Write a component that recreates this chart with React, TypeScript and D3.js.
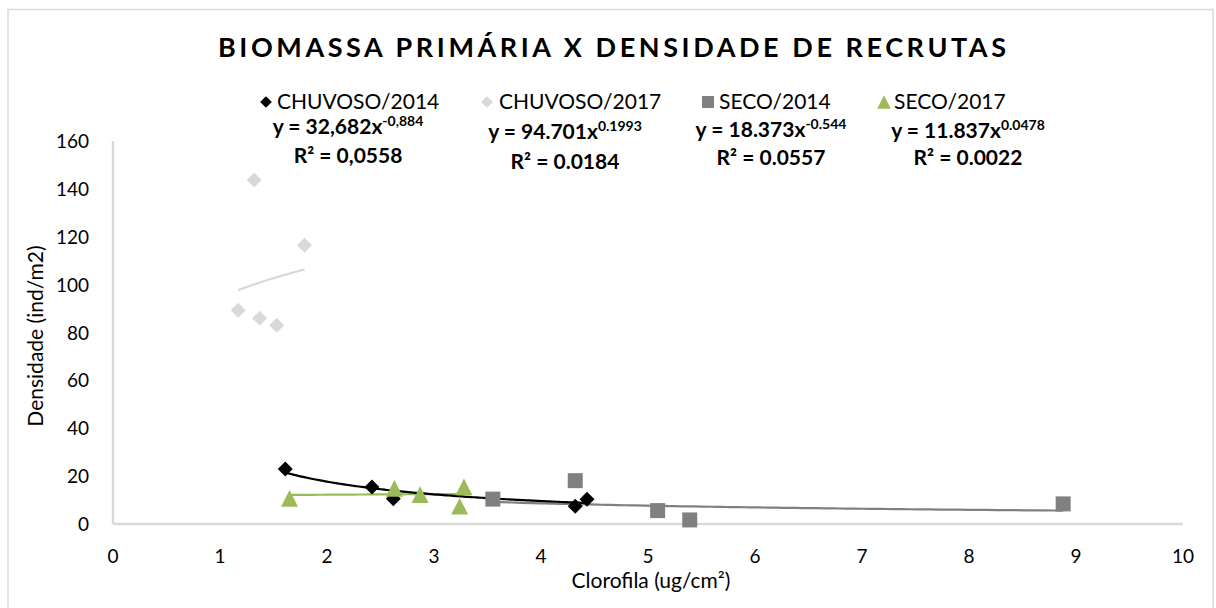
import React from "react";
import * as d3 from "d3";

const titleText = "BIOMASSA PRIMÁRIA X DENSIDADE DE RECRUTAS";
const xAxisTitle = "Clorofila (ug/cm²)";
const yAxisTitle = "Densidade (ind/m2)";

const seriesNames = ["CHUVOSO/2014", "CHUVOSO/2017", "SECO/2014", "SECO/2017"];

const chuvoso2014X = [1.61, 2.42, 2.62, 4.32, 4.43];
const chuvoso2014Y = [23.0, 15.5, 10.5, 7.4, 10.3];
const chuvoso2017X = [1.32, 1.79, 1.17, 1.37, 1.53];
const chuvoso2017Y = [143.7, 116.5, 89.3, 86.0, 83.0];
const seco2014X = [3.55, 4.32, 5.09, 5.39, 8.88];
const seco2014Y = [10.4, 18.1, 5.6, 1.7, 8.4];
const seco2017X = [1.65, 2.63, 2.87, 3.28, 3.24];
const seco2017Y = [10.7, 14.9, 12.3, 15.5, 7.4];

// power trendline fits y = a * x^b as displayed
const fitA = [32.682, 94.701, 18.373, 11.837];
const fitB = [-0.884, 0.1993, -0.544, 0.0478];
const eqCoef = ["32,682", "94.701", "18.373", "11.837"];
const eqExp = ["-0,884", "0.1993", "-0.544", "0.0478"];
const r2Text = ["0,0558", "0.0184", "0.0557", "0.0022"];

const xTicks = [0, 1, 2, 3, 4, 5, 6, 7, 8, 9, 10];
const yTicks = [0, 20, 40, 60, 80, 100, 120, 140, 160];

const colors = ["#000000", "#d9d9d9", "#808080", "#9bbb59"];
const shapes = ["diamond", "diamond", "square", "triangle"];

const W = 1216;
const H = 608;
const FONT = "Lato, 'Open Sans', sans-serif";

const xScale = d3.scaleLinear().domain([0, 10]).range([113, 1183]);
const yScale = d3.scaleLinear().domain([0, 160]).range([524, 141]);

const triangleType = {
  draw(ctx: any, size: number) {
    const w = Math.sqrt(size);
    const h = w * 0.98;
    ctx.moveTo(0, -h / 2);
    ctx.lineTo(w / 2, h / 2);
    ctx.lineTo(-w / 2, h / 2);
    ctx.closePath();
  },
};
const diamondType = {
  draw(ctx: any, size: number) {
    const r = Math.sqrt(size) / 2;
    ctx.moveTo(0, -r);
    ctx.lineTo(r, 0);
    ctx.lineTo(0, r);
    ctx.lineTo(-r, 0);
    ctx.closePath();
  },
};
const squareType = {
  draw(ctx: any, size: number) {
    const r = Math.sqrt(size) / 2;
    ctx.rect(-r, -r, 2 * r, 2 * r);
  },
};

function markerPath(shape: string, scale: number) {
  if (shape === "diamond") return d3.symbol(diamondType as any, (15 * scale) ** 2)()!;
  if (shape === "square") return d3.symbol(squareType as any, (15 * scale) ** 2)()!;
  return d3.symbol(triangleType as any, (17 * scale) ** 2)()!;
}

const seriesData = [
  { xs: chuvoso2014X, ys: chuvoso2014Y },
  { xs: chuvoso2017X, ys: chuvoso2017Y },
  { xs: seco2014X, ys: seco2014Y },
  { xs: seco2017X, ys: seco2017Y },
];

function trendPoints(i: number): [number, number][] {
  const xs = seriesData[i].xs;
  const x0 = d3.min(xs)!;
  const x1 = d3.max(xs)!;
  const n = 60;
  return d3.range(n + 1).map((k) => {
    const x = x0 + ((x1 - x0) * k) / n;
    return [x, fitA[i] * Math.pow(x, fitB[i])];
  });
}

const line = d3
  .line<[number, number]>()
  .x((d) => xScale(d[0]))
  .y((d) => yScale(d[1]))
  .curve(d3.curveMonotoneX);

// layout of the legend / equation blocks
const legendLayout = [
  { mx: 266, tx: 277, ly: 109, cx: 348, ey: 134, ry: 163 },
  { mx: 487, tx: 499, ly: 109, cx: 565, ey: 139, ry: 169 },
  { mx: 708, tx: 719, ly: 109, cx: 771, ey: 137, ry: 165 },
  { mx: 884, tx: 894, ly: 109, cx: 968, ey: 138, ry: 165 },
];

export default function App() {
  const trendOrder = [1, 3, 2, 0];
  return (
    <div style={{ position: "absolute", left: 0, top: 0 }}>
      <svg width={W} height={H} style={{ display: "block", background: "#fff" }}>
        <rect x={0} y={0} width={W} height={H} fill="#fff" />
        <rect x={8} y={9.5} width={1205} height={620} fill="none" stroke="#d9d9d9" strokeWidth={1.5} />

        <text
          x={612}
          y={57}
          textAnchor="middle"
          fontFamily={FONT}
          fontWeight={700}
          fontSize={27}
          textLength={788}
          lengthAdjust="spacing"
          fill="#000"
        >
          {titleText}
        </text>

        {/* axes */}
        <line x1={xScale(0)} x2={xScale(0)} y1={yScale(160)} y2={yScale(0)} stroke="#d9d9d9" strokeWidth={2.5} />
        <line x1={xScale(0)} x2={xScale(10)} y1={yScale(0)} y2={yScale(0)} stroke="#d9d9d9" strokeWidth={2.5} />

        {yTicks.map((t) => (
          <text key={"y" + t} x={89} y={yScale(t) + 7} textAnchor="end" fontFamily={FONT} fontSize={19} fill="#000">
            {t}
          </text>
        ))}
        {xTicks.map((t) => (
          <text key={"x" + t} x={xScale(t)} y={563} textAnchor="middle" fontFamily={FONT} fontSize={19} fill="#000">
            {t}
          </text>
        ))}

        <text x={651} y={588} textAnchor="middle" fontFamily={FONT} fontSize={21} fill="#000">
          {xAxisTitle}
        </text>
        <text
          transform={`translate(43,336) rotate(-90)`}
          textAnchor="middle"
          fontFamily={FONT}
          fontSize={21}
          fill="#000"
        >
          {yAxisTitle}
        </text>

        {/* trendlines */}
        {trendOrder.map((i) => (
          <path key={"t" + i} d={line(trendPoints(i))!} fill="none" stroke={colors[i]} strokeWidth={2.2} />
        ))}

        {/* markers */}
        {seriesData.map((s, i) =>
          s.xs.map((x, j) => (
            <path
              key={`m${i}-${j}`}
              d={markerPath(shapes[i], 1)}
              transform={`translate(${xScale(x)},${yScale(s.ys[j])})`}
              fill={colors[i]}
            />
          ))
        )}

        {/* legend + equations */}
        {seriesNames.map((name, i) => {
          const L = legendLayout[i];
          return (
            <g key={"l" + i}>
              <path
                d={markerPath(shapes[i], shapes[i] === "diamond" ? 0.78 : 0.8)}
                transform={`translate(${L.mx},${L.ly - 7})`}
                fill={colors[i]}
              />
              <text x={L.tx} y={L.ly} fontFamily={FONT} fontSize={21} fill="#000">
                {name}
              </text>
              <text x={L.cx} y={L.ey} textAnchor="middle" fontFamily={FONT} fontWeight={700} fontSize={21} fill="#000">
                {"y = " + eqCoef[i] + "x"}
                <tspan dy={-8} fontSize={14}>
                  {eqExp[i]}
                </tspan>
              </text>
              <text x={L.cx} y={L.ry} textAnchor="middle" fontFamily={FONT} fontWeight={700} fontSize={21} fill="#000">
                {"R² = " + r2Text[i]}
              </text>
            </g>
          );
        })}
      </svg>
    </div>
  );
}
